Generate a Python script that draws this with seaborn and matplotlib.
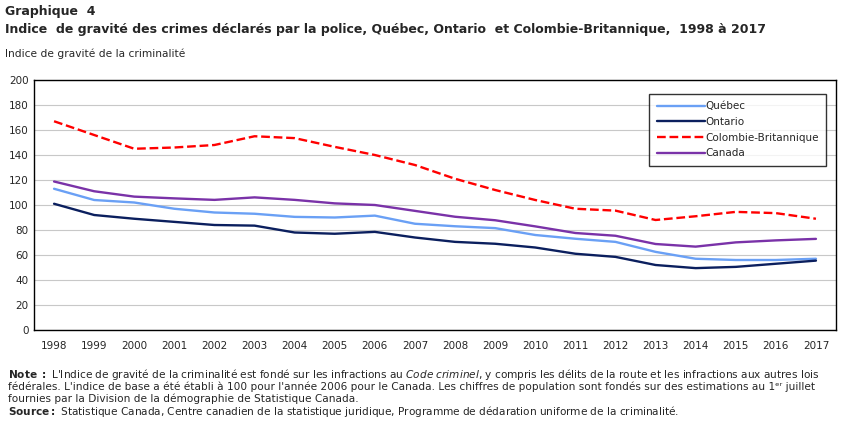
import numpy as np
import pandas as pd
import seaborn as sns
import matplotlib.pyplot as plt
from matplotlib.ticker import MultipleLocator, FixedLocator

years = list(range(1998, 2018))
quebec = [113, 104, 102, 97, 94, 93, 90.5, 90, 91.5, 85, 83, 81.5, 76, 73, 70.5, 62.5, 57, 56, 56, 57]
ontario = [101, 92, 89, 86.5, 84, 83.5, 78, 77, 78.5, 74, 70.5, 69, 66, 61, 58.5, 52, 49.5, 50.5, 53, 55.5]
colombie = [167, 156, 145, 146, 148, 155, 153.5, 146.5, 140, 132, 121, 112, 104, 97, 95.5, 88, 91, 94.5, 93.5, 89]
canada = [118.8, 111.0, 106.7, 105.3, 104.1, 106.1, 104.1, 101.3, 100.0, 95.3, 90.6, 87.8, 82.9, 77.6, 75.4, 68.8, 66.7, 70.1, 71.7, 72.9]

series = [("Québec", quebec, "#6AA0F5", "-"),
          ("Ontario", ontario, "#0B1F5E", "-"),
          ("Colombie-Britannique", colombie, "#FF0000", "--"),
          ("Canada", canada, "#7A32A8", "-")]

sns.set_style("white")
plt.rcParams['font.family'] = ['DejaVu Sans']
plt.rcParams['mathtext.fontset'] = 'dejavusans'

fig = plt.figure(figsize=(8.51, 4.23), dpi=100)
ax = fig.add_axes([34/851, 93/423, (836-34)/851, 250/423])

for name, vals, col, ls in series:
    df = pd.DataFrame({"year": years, "value": vals})
    sns.lineplot(data=df, x="year", y="value", ax=ax, color=col, linestyle=ls,
                 linewidth=1.7, label=name)

ax.set_xlim(1997.5, 2017.5)
ax.set_ylim(0, 200)
ax.yaxis.set_major_locator(MultipleLocator(20))
ax.grid(axis='y', color='#C8C8C8', linewidth=0.8)
ax.set_axisbelow(True)
ax.set_xticks(years)
ax.set_xticklabels([str(y) for y in years])
ax.xaxis.set_minor_locator(FixedLocator(np.arange(1998.5, 2017.5, 1)))
ax.tick_params(axis='x', which='major', length=0, pad=8, labelsize=7.5)
ax.tick_params(axis='x', which='minor', length=5, width=0.8, color='black', direction='out')
ax.tick_params(axis='y', length=0, pad=4, labelsize=7.5)
ax.set_xlabel("")
ax.set_ylabel("")
for sp in ax.spines.values():
    sp.set_color('black')
    sp.set_linewidth(1.0)

leg = ax.legend(loc='upper right', bbox_to_anchor=(0.988, 0.944), fontsize=7.5,
                frameon=True, fancybox=False, edgecolor='black', handlelength=4.6,
                handletextpad=0.1, borderpad=0.7, labelspacing=0.55, borderaxespad=0)
leg.get_frame().set_linewidth(1.0)

fig.text(5/851, 1 - 12/423, "Graphique  4", fontsize=9, fontweight='bold', va='center')
fig.text(5/851, 1 - 30/423,
         "Indice  de gravité des crimes déclarés par la police, Québec, Ontario  et Colombie-Britannique,  1998 à 2017",
         fontsize=9, fontweight='bold', va='center')
fig.text(5/851, 1 - 54/423, "Indice de gravité de la criminalité", fontsize=7.7, va='center')

note1 = (r"$\bf{Note\ :}$ L'Indice de gravité de la criminalité est fondé sur les infractions au "
         r"$\it{Code\ criminel}$, y compris les délits de la route et les infractions aux autres lois")
note2 = ("fédérales. L'indice de base a été établi à 100 pour l'année 2006 pour le Canada. "
         "Les chiffres de population sont fondés sur des estimations au 1ᵉʳ juillet")
note3 = "fournies par la Division de la démographie de Statistique Canada."
note4 = (r"$\bf{Source :}$ Statistique Canada, Centre canadien de la statistique juridique, "
         r"Programme de dédaration uniforme de la criminalité.")
for yy, txt in [(375, note1), (387, note2), (399, note3), (411, note4)]:
    fig.text(8/851, 1 - yy/423, txt, fontsize=7.6, va='center')

fig.savefig("out.png", dpi=100)
